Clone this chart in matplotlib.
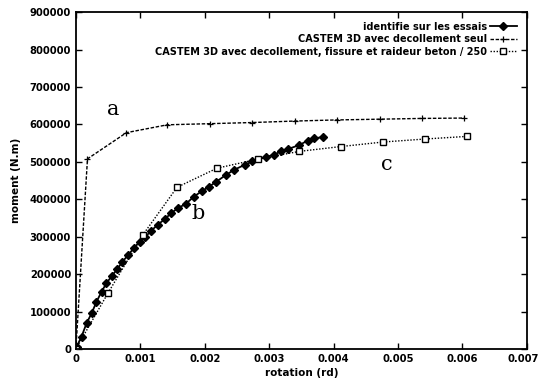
import matplotlib
matplotlib.use("Agg")
import matplotlib.pyplot as plt
import matplotlib.transforms as mtransforms
from matplotlib.ticker import FixedLocator, FuncFormatter

# Data
ess_x = [0.0, 0.00001, 0.000088, 0.000166, 0.000243, 0.00032, 0.000398, 0.000475, 0.000562,
         0.00064, 0.000723, 0.00081, 0.000898, 0.00099, 0.00108, 0.00117, 0.00127, 0.00138,
         0.00148, 0.00158, 0.00171, 0.00183, 0.00195, 0.00207, 0.00218, 0.00233, 0.00246,
         0.00262, 0.00274, 0.00295, 0.00308, 0.00318, 0.00329, 0.00347, 0.00360, 0.00370, 0.00383]
ess_y = [0, 6000, 33000, 69000, 95000, 126000, 153000, 176000, 196000,
         213000, 233000, 251000, 269000, 287000, 300000, 316000, 332000, 347000,
         363000, 376000, 388000, 407000, 421000, 434000, 447000, 465000, 479000,
         492000, 501000, 513000, 519000, 528000, 534000, 545000, 557000, 563000, 566000]

seul_x = [0.0, 0.00018, 0.000785, 0.00142, 0.00208, 0.00273, 0.0034, 0.00405, 0.00472, 0.00537, 0.00603]
seul_y = [0, 508000, 578000, 599000, 602000, 605000, 609000, 612000, 614000, 616000, 617000]

fis_x = [0.0, 0.0005, 0.00104, 0.00157, 0.00219, 0.00282, 0.00347, 0.00412, 0.00477, 0.00542, 0.00607]
fis_y = [0, 150000, 305000, 432000, 483000, 507000, 528000, 541000, 553000, 561000, 568000]

labels = ["identifie sur les essais",
          "CASTEM 3D avec decollement seul",
          "CASTEM 3D avec decollement, fissure et raideur beton / 250"]
x_ticks = [0, 0.001, 0.002, 0.003, 0.004, 0.005, 0.006, 0.007]
x_tick_labels = ["0", "0.001", "0.002", "0.003", "0.004", "0.005", "0.006", "0.007"]
y_ticks = [0, 100000, 200000, 300000, 400000, 500000, 600000, 700000, 800000, 900000]

fig = plt.figure(figsize=(5.42, 3.85), dpi=100)
ax = fig.add_axes([0.140, 0.0935, 0.832, 0.875])

ax.plot(ess_x, ess_y, '-', color='black', lw=1.3, marker='D', ms=3.6, label=labels[0])
ax.plot(seul_x, seul_y, color='black', lw=1.0, ls=(0, (2.5, 1.2)), marker='+', ms=4, mew=0.9, label=labels[1])
ax.plot(fis_x, fis_y, color='black', lw=1.0, ls=(0, (1, 1.2)), marker='s', ms=4, mfc='white', mew=1.0, label=labels[2])

ax.set_xlim(0, 0.007)
ax.set_ylim(0, 900000)
ax.xaxis.set_major_locator(FixedLocator(x_ticks))
ax.set_xticklabels(x_tick_labels)
ax.yaxis.set_major_locator(FixedLocator(y_ticks))
ax.yaxis.set_major_formatter(FuncFormatter(lambda v, p: "%d" % v))
ax.tick_params(direction='in', top=True, right=True, length=4, width=1, labelsize=7.2)
xlabs = ax.get_xticklabels()
for lab in xlabs + ax.get_yticklabels():
    lab.set_fontweight('bold')
# nudge the last x tick label slightly left so it stays inside the figure
shift = mtransforms.ScaledTranslation(-4 / 100, 0, fig.dpi_scale_trans)
xlabs[-1].set_transform(xlabs[-1].get_transform() + shift)
for s in ax.spines.values():
    s.set_linewidth(1.3)

ax.set_xlabel("rotation (rd)", fontsize=7.5, fontweight='bold', labelpad=3)
ax.set_ylabel("moment (N.m)", fontsize=7.5, fontweight='bold', labelpad=6)

ax.text(0.00058, 639000, "a", fontsize=15, family='DejaVu Serif', ha='center', va='center')
ax.text(0.00189, 363000, "b", fontsize=15, family='DejaVu Serif', ha='center', va='center')
ax.text(0.00483, 492000, "c", fontsize=15, family='DejaVu Serif', ha='center', va='center')

leg = ax.legend(loc='upper right', frameon=False, markerfirst=False, fontsize=7,
                handlelength=2.8, handletextpad=0.3, labelspacing=0.25,
                borderaxespad=0.6, bbox_to_anchor=(1.0, 1.0))
for t in leg.get_texts():
    t.set_fontweight('bold')

fig.savefig("out.png", dpi=100)
